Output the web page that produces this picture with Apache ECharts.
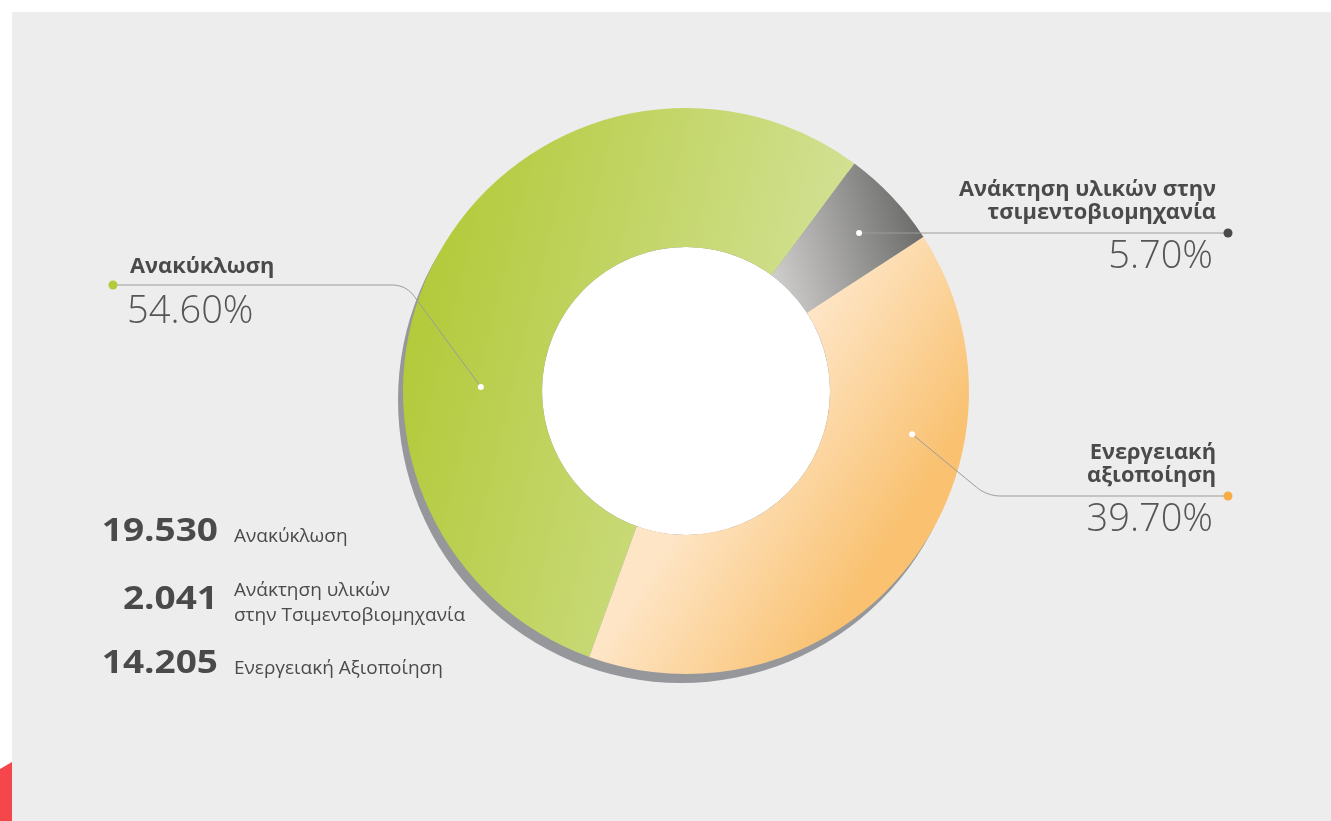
<!DOCTYPE html>
<html>
<head>
<meta charset="utf-8">
<script src="https://cdn.jsdelivr.net/npm/echarts@6/dist/echarts.min.js"></script>
<style>
html,body{margin:0;padding:0;background:#ffffff;overflow:hidden;}
#panel{position:absolute;left:12px;top:12px;width:1319px;height:809px;background:#ededed;}
#red{position:absolute;left:0;top:762px;width:12px;height:59px;background:#f5464b;clip-path:polygon(0 12%,100% 0,100% 100%,0 100%);}
#c{position:absolute;left:0;top:0;width:1331px;height:821px;}
</style>
</head>
<body>
<div id="panel"></div>
<div id="red"></div>
<div id="c"></div>
<script>
// ---- data ----
const categories = ['Ανακύκλωση', 'Ανάκτηση υλικών στην τσιμεντοβιομηχανία', 'Ενεργειακή αξιοποίηση'];
const values = [19530, 2041, 14205];
const chartLabels = [['Ανακύκλωση'], ['Ανάκτηση υλικών στην', 'τσιμεντοβιομηχανία'], ['Ενεργειακή', 'αξιοποίηση']];
const listLabels = [['Ανακύκλωση'], ['Ανάκτηση υλικών', 'στην Τσιμεντοβιομηχανία'], ['Ενεργειακή Αξιοποίηση']];

// ---- layout / style ----
const FONT = '"Open Sans","Noto Sans",sans-serif';
const CX = 686, CY = 391, R0 = 144, R1 = 283;
const START = 250;
const SHADOW = [-5, 9];
function lg(x, y, x2, y2, c0, c1) {
  return {type: 'linear', x: x, y: y, x2: x2, y2: y2, global: false,
          colorStops: [{offset: 0, color: c0}, {offset: 1, color: c1}]};
}
const fills = [
  lg(0, 0.3, 1, 0.5, '#b1c936', '#d6e39e'),
  lg(0, 0.75, 1, 0.45, '#cfcecc', '#6a6a69'),
  lg(0.58, 0.19, 1.0, 0.42, '#fee5c5', '#f9c170')
];
const labelCfg = [
  {side: 'left', t: 0.362, rf: 0.44, lineY: 285, dot: '#b3cb3b'},
  {side: 'right', t: 0.54, rf: 0.65, lineY: null, dot: '#4a4a4a'},
  {side: 'right', t: 0.306, rf: 0.62, lineY: 496, dot: '#f9ab45'}
];
const LEFT_X = 113, RIGHT_X = 1228;
const NAME_C = '#4a4a4a', PCT_C = '#555555', LINE_C = '#9b9b9b';

const total = values.reduce((a, b) => a + b, 0);
const pct = v => (Math.round(v / total * 1000) / 10).toFixed(2) + '%';
const fmt = v => String(v).replace(/\B(?=(\d{3})+(?!\d))/g, '.');

function txt(x, baseline, s, size, weight, align, color, sx) {
  return {
    type: 'text', x: x, y: baseline - 0.33 * size, scaleX: sx || 1, silent: true, z: 10,
    style: {text: s, font: weight + ' ' + size + 'px ' + FONT, fill: color,
            textAlign: align, textVerticalAlign: 'middle'}
  };
}

// slice angles (same rule the pie uses: clockwise from START)
function sliceAngles() {
  let a = -START * Math.PI / 180;
  return values.map(v => { const s = a; a += v / total * 2 * Math.PI; return [s, a]; });
}

function buildGraphics() {
  const els = [];
  const angs = sliceAngles();
  labelCfg.forEach((cfg, i) => {
    const [s, e] = angs[i];
    const a = s + cfg.t * (e - s);
    const r = R0 + cfg.rf * (R1 - R0);
    const dx = CX + r * Math.cos(a), dy = CY + r * Math.sin(a);
    const sign = cfg.side === 'left' ? -1 : 1;
    const endX = cfg.side === 'left' ? LEFT_X : RIGHT_X;
    const ly = cfg.lineY == null ? dy : cfg.lineY;
    let pts;
    if (Math.abs(ly - dy) < 4) {
      pts = [[dx, dy], [endX, ly]];
    } else {
      const bx = dx + sign * 75, by = ly;
      const rc = 14;
      const len = Math.hypot(bx - dx, by - dy);
      const px = bx - (bx - dx) / len * rc, py = by - (by - dy) / len * rc;
      const qx = bx + sign * rc;
      pts = [[dx, dy], [px, py]];
      for (let k = 1; k < 10; k++) {
        const u = k / 10;
        const x = (1 - u) * (1 - u) * px + 2 * (1 - u) * u * bx + u * u * qx;
        const y = (1 - u) * (1 - u) * py + 2 * (1 - u) * u * by + u * u * by;
        pts.push([x, y]);
      }
      pts.push([qx, by], [endX, by]);
    }
    els.push({type: 'polyline', silent: true, z: 8, shape: {points: pts},
              style: {fill: null, stroke: LINE_C, lineWidth: 1}});
    els.push({type: 'circle', silent: true, z: 9, shape: {cx: dx, cy: dy, r: 3}, style: {fill: '#ffffff'}});
    els.push({type: 'circle', silent: true, z: 9, shape: {cx: endX, cy: ly, r: 4.5}, style: {fill: cfg.dot}});
    const lines = chartLabels[i];
    if (cfg.side === 'left') {
      els.push(txt(endX + 17, ly - 11, lines[0], 21, 'bold', 'left', NAME_C, 1.04));
      els.push(txt(endX + 14, ly + 40, pct(values[i]), 38, '300', 'left', PCT_C));
    } else {
      for (let k = 0; k < lines.length; k++) {
        const b = ly - 13 - (lines.length - 1 - k) * 23;
        els.push(txt(endX - 12, b, lines[k], 21, 'bold', 'right', NAME_C, 1.04));
      }
      els.push(txt(endX - 15, ly + 37, pct(values[i]), 38, '300', 'right', PCT_C));
    }
  });
  // summary list
  const NUM_X = 218, TXT_X = 234, ROW0 = 542, ROW_H = 66;
  values.forEach((v, i) => {
    const nb = ROW0 + i * ROW_H + (listLabels[i].length > 1 ? 2 : 0);
    els.push(txt(NUM_X, nb, fmt(v), 33, 'bold', 'right', NAME_C, 1.12));
    const ls = listLabels[i];
    if (ls.length === 1) {
      els.push(txt(TXT_X, nb + 1, ls[0], 19, 'normal', 'left', NAME_C));
    } else {
      els.push(txt(TXT_X, nb - 13, ls[0], 19, 'normal', 'left', NAME_C));
      els.push(txt(TXT_X, nb + 12, ls[1], 19, 'normal', 'left', NAME_C));
    }
  });
  return els;
}

const chart = echarts.init(document.getElementById('c'), null, {renderer: 'canvas'});
chart.setOption({
  backgroundColor: 'transparent',
  animation: false,
  series: [
    {
      type: 'pie', silent: true, z: 1, center: [CX + SHADOW[0], CY + SHADOW[1]], radius: [0, R1],
      data: [{value: 1, name: 'shadow'}], itemStyle: {color: '#96979b'},
      label: {show: false}, labelLine: {show: false}
    },
    {
      type: 'pie', silent: true, z: 2, center: [CX, CY], radius: [0, R0],
      data: [{value: 1, name: 'hole'}], itemStyle: {color: '#ffffff'},
      label: {show: false}, labelLine: {show: false}
    },
    {
      type: 'pie', z: 3, center: [CX, CY], radius: [R0, R1], startAngle: START, clockwise: true,
      avoidLabelOverlap: false,
      data: categories.map((c, i) => ({name: c, value: values[i], itemStyle: {color: fills[i]}})),
      label: {show: false}, labelLine: {show: false},
      emphasis: {disabled: true}
    }
  ],
  graphic: {elements: buildGraphics()}
});
</script>
</body>
</html>
